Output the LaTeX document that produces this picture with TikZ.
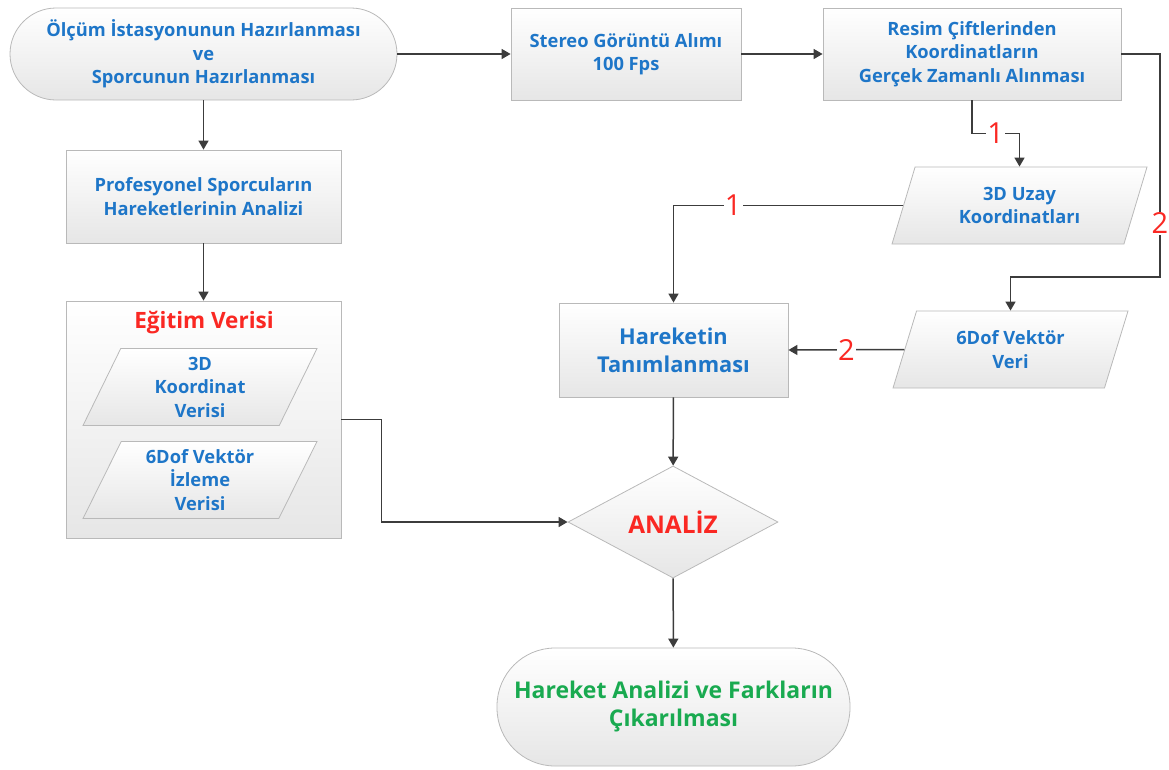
\documentclass[tikz,border=0pt]{standalone}
\usepackage{fontspec}
\setmainfont{Open Sans}
\usetikzlibrary{shapes.geometric,arrows.meta}
\definecolor{txtblue}{RGB}{30,118,200}
\definecolor{txtred}{RGB}{250,40,35}
\definecolor{txtgreen}{RGB}{25,170,80}
\definecolor{boxline}{RGB}{185,185,185}
\definecolor{boxfill}{RGB}{230,230,230}
\definecolor{wire}{RGB}{60,60,60}

\begin{document}
\begin{tikzpicture}[x=1pt,y=-1pt,
every node/.style={font=\bfseries\fontsize{18.3}{23.5}\selectfont, text=txtblue, align=center},
proc/.style={rectangle, draw=boxline, line width=0.8pt, top color=white, bottom color=boxfill, inner sep=0pt},
term/.style={proc, rounded corners=46pt},
io/.style={proc, trapezium, trapezium left angle=58, trapezium right angle=122, trapezium stretches body},
decide/.style={proc, diamond},
flow/.style={draw=wire, line width=1.5pt, -{Triangle[length=9pt,width=10pt]}},
num/.style={font=\fontsize{29}{29}\selectfont, text=txtred, fill=white, inner sep=1pt}]
\useasboundingbox (0,0) rectangle (1169,769);

% top row
\node[term, minimum width=387, minimum height=92] (start) at (203.5,54) {Ölçüm İstasyonunun Hazırlanması\\ve\\Sporcunun Hazırlanması};
\node[proc, minimum width=230, minimum height=92] (stereo) at (626,54) {Stereo Görüntü Alımı\\100 Fps};
\node[proc, minimum width=298, minimum height=92] (resim) at (972,54) {Resim Çiftlerinden\\Koordinatların\\Gerçek Zamanlı Alınması};

% left column
\node[proc, minimum width=275, minimum height=93] (prof) at (203.5,196.5) {Profesyonel Sporcuların\\Hareketlerinin Analizi};
\node[proc, minimum width=275, minimum height=237] (egitim) at (203.5,419.5) {};
\node[text=txtred, font=\bfseries\fontsize{22.5}{25}\selectfont] (baslik) at (204,323) {Eğitim Verisi};
\node[io, minimum width=234, minimum height=77] (koord) at (200,387) {3D\\Koordinat\\Verisi};
\node[io, minimum width=234, minimum height=77] (izleme) at (200,480) {6Dof Vektör\\İzleme\\Verisi};

% right side
\node[io, minimum width=255, minimum height=77] (uzay) at (1019.5,205.5) {3D Uzay\\Koordinatları};
\node[io, minimum width=235, minimum height=77] (vektor) at (1010.5,349.5) {6Dof Vektör\\Veri};
\node[proc, minimum width=229, minimum height=94, font=\bfseries\fontsize{21.8}{28}\selectfont] (hareket) at (673.5,350) {Hareketin\\Tanımlanması};

% bottom
\node[decide, minimum width=210, minimum height=109, text=txtred, font=\bfseries\fontsize{24.4}{30}\selectfont] (analiz) at (673,522) {ANALİZ};
\node[term, rounded corners=58pt, minimum width=353, minimum height=118, text=txtgreen, font=\bfseries\fontsize{23}{28}\selectfont] (sonuc) at (673.5,707) {Hareket Analizi ve Farkların\\Çıkarılması};

\coordinate (sag) at (1160,277);

\draw[flow] (start) -- (stereo);
\draw[flow] (stereo) -- (resim);
\draw[flow] (start) -- (prof);
\draw[flow] (prof) -- (egitim);
\draw[flow] (resim.south) -- ++(0,33) -| node[num, pos=0.25] {1} (uzay.north);
\draw[flow] (resim.east) -| node[num, pos=0.88] {2} (sag) -| (vektor.north);
\draw[flow] (uzay.west) -| node[num, pos=0.37] {1} (hareket.north);
\draw[flow] (vektor.west) -- node[num] {2} (hareket.east);
\draw[flow] (hareket) -- (analiz);
\draw[flow] (egitim.east) -- ++(40,0) |- (analiz.west);
\draw[flow] (analiz) -- (sonuc);
\end{tikzpicture}
\end{document}
